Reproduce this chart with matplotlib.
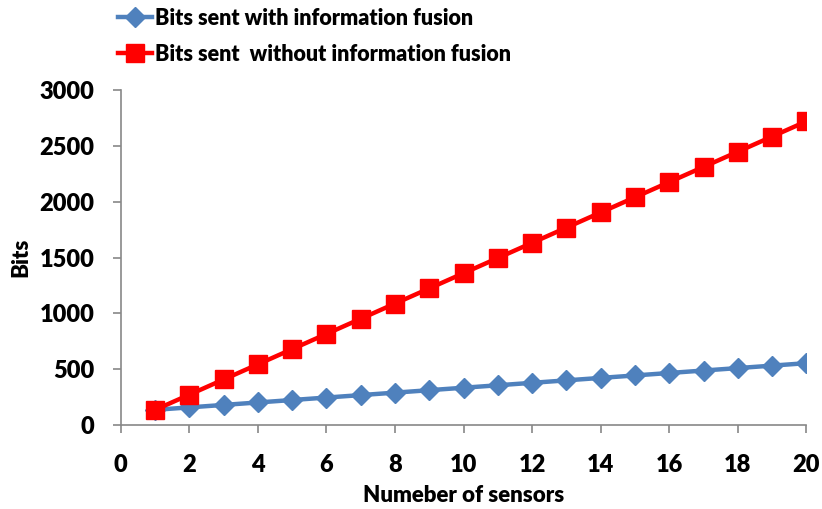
import matplotlib.pyplot as plt

sensors = list(range(1, 21))
bits_with_fusion = [136, 158, 180, 202, 224, 246, 268, 290, 312, 334,
                    356, 378, 400, 422, 444, 466, 488, 510, 532, 554]
bits_without_fusion = [136, 272, 408, 544, 680, 816, 952, 1088, 1224, 1360,
                       1496, 1632, 1768, 1904, 2040, 2176, 2312, 2448, 2584, 2720]

plt.rcParams['font.family'] = ['Lato', 'DejaVu Sans']
plt.rcParams['font.weight'] = 'heavy'

fig = plt.figure(figsize=(8.22, 5.09), dpi=100)
ax = fig.add_axes([0.147, 0.165, 0.834, 0.658])

ax.plot(sensors, bits_with_fusion, color='#4F81BD', lw=3.2, marker='D',
        ms=10, label='Bits sent with information fusion')
ax.plot(sensors, bits_without_fusion, color='#FF0000', lw=3.2, marker='s',
        ms=13, label='Bits sent  without information fusion')

ax.set_xlim(0, 20)
ax.set_ylim(0, 3000)
ax.set_xticks(range(0, 21, 2))
ax.set_yticks(range(0, 3001, 500))
for s in ['top', 'right']:
    ax.spines[s].set_visible(False)
for s in ['left', 'bottom']:
    ax.spines[s].set_color('#888888')
    ax.spines[s].set_linewidth(1.2)
ax.tick_params(colors='#888888', labelcolor='black', labelsize=17, length=6, width=1.2)
ax.tick_params(axis='x', pad=15)
ax.tick_params(axis='y', pad=13)
for lbl in ax.get_xticklabels() + ax.get_yticklabels():
    lbl.set_fontweight('heavy')

ax.set_xlabel('Numeber of sensors', fontsize=16, fontweight='heavy', labelpad=6)
ax.set_ylabel('Bits', fontsize=16, fontweight='heavy', labelpad=6)

ax.legend(loc='upper left', frameon=False, prop={'size': 15.5, 'weight': 'heavy'},
          handlelength=1.6, handletextpad=0.15, labelspacing=0.7, borderaxespad=0,
          borderpad=0.2)
leg = ax.get_legend()
leg.set_bbox_to_anchor((0.138, 0.993), transform=fig.transFigure)

fig.savefig('out.png', dpi=100)
